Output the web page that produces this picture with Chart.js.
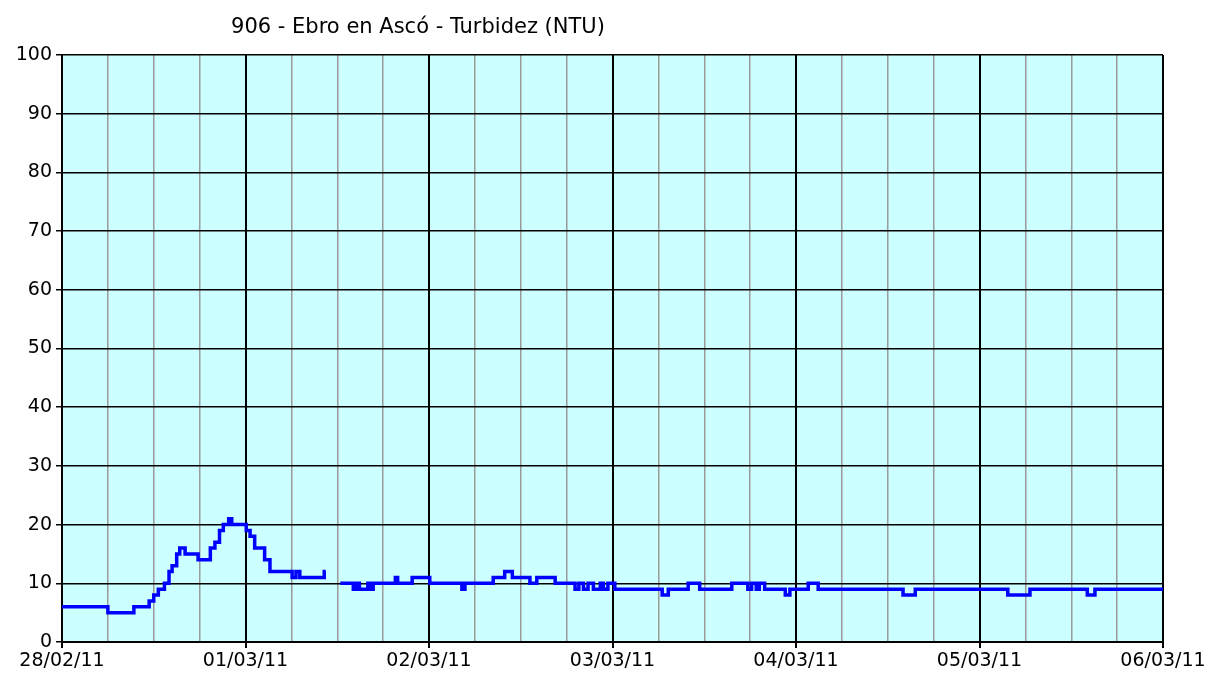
<!DOCTYPE html>
<html>
<head>
<meta charset="utf-8">
<script src="https://cdn.jsdelivr.net/npm/chart.js@4/dist/chart.umd.min.js"></script>
<style>
  html, body { margin: 0; padding: 0; background: #fff; }
  #wrap { width: 1221px; height: 680px; position: relative; }
</style>
</head>
<body>
<div id="wrap"><canvas id="turbChart"></canvas></div>
<script>
const chartTitle = '906 - Ebro en Ascó - Turbidez (NTU)';
const dayLabels = ['28/02/11', '01/03/11', '02/03/11', '03/03/11', '04/03/11', '05/03/11', '06/03/11'];

// hours since 28/02/11 00:00, value holds until the next hour (null = gap)
const hours = [
    0, 6, 9.4, 11.4, 12, 12.6, 13.4, 14, 14.4, 15, 15.4, 16.1, 17.8, 19.4, 20, 20.6,
    21.1, 21.8, 22.2, 24.1, 24.6, 25.2, 26.5, 27.2, 30.1, 30.6, 31.1, 34.3, 34.5,
    35.4,
    36.4, 38.1, 38.5, 38.9, 40, 40.3, 40.7, 43.6, 43.9, 45.8, 48.1, 52.3, 52.7, 56.4,
    57.9, 58.9, 61.2, 62.1, 64.5, 67.1, 67.6, 68.2, 68.8, 69.5, 70.4, 70.8, 71.4, 72.3,
    78.5, 79.3, 81.9, 83.4, 87.6, 89.7, 90.2, 90.8, 91.2, 91.9, 94.6, 95.2, 97.6, 98.9,
    110, 111.6, 123.7, 126.6, 134.1, 135.1, 144
];
const turbidity = [
    6, 5, 6, 7, 8, 9, 10, 12, 13, 15, 16, 15, 14, 16, 17, 19,
    20, 21, 20, 19, 18, 16, 14, 12, 11, 12, 11, 12, 12,
    null,
    10, 9, 10, 9, 10, 9, 10, 11, 10, 11, 10, 9, 10, 11,
    12, 11, 10, 11, 10, 9, 10, 9, 10, 9, 10, 9, 10, 9,
    8, 9, 10, 9, 10, 9, 10, 9, 10, 9, 8, 9, 10, 9,
    8, 9, 8, 9, 8, 9, 9
];

const plotBackground = {
    id: 'plotBackground',
    beforeDraw(chart) {
        const { ctx, chartArea: a } = chart;
        ctx.save();
        ctx.fillStyle = '#ccffff';
        ctx.fillRect(a.left, a.top, a.right - a.left, a.bottom - a.top);
        ctx.restore();
    }
};

const titleText = {
    id: 'titleText',
    afterDraw(chart) {
        const ctx = chart.ctx;
        ctx.save();
        ctx.font = '21px "DejaVu Sans"';
        ctx.fillStyle = '#000';
        ctx.textAlign = 'center';
        ctx.textBaseline = 'middle';
        ctx.fillText(chartTitle, 418, 28);
        ctx.restore();
    }
};

const isDay = (c) => c.tick && c.tick.value % 24 === 0;

new Chart(document.getElementById('turbChart'), {
    type: 'line',
    data: {
        datasets: [{
            label: 'Turbidez',
            data: hours.map((h, i) => ({ x: h, y: turbidity[i] })),
            borderColor: '#0000ff',
            borderWidth: 3.5,
            pointRadius: 0,
            stepped: true,
            spanGaps: false,
        }],
    },
    options: {
        responsive: true,
        maintainAspectRatio: false,
        animation: false,
        layout: { padding: { top: 55, right: 58, left: 0, bottom: 0 } },
        plugins: { legend: { display: false }, tooltip: { enabled: false }, title: { display: false } },
        scales: {
            x: {
                type: 'linear',
                min: 0,
                max: 144,
                afterFit: (s) => { s.height = 38; },
                afterBuildTicks: (s) => {
                    s.ticks = [];
                    for (let h = 0; h <= 144; h += 6) s.ticks.push({ value: h });
                },
                ticks: {
                    autoSkip: false,
                    maxRotation: 0,
                    padding: 2,
                    color: '#000',
                    font: { family: 'DejaVu Sans', size: 19 },
                    callback: (v) => (v % 24 === 0 ? dayLabels[v / 24] : ''),
                },
                grid: {
                    color: (c) => (isDay(c) ? '#000' : '#9a9a9a'),
                    tickColor: (c) => (isDay(c) ? '#000' : 'rgba(0,0,0,0)'),
                    lineWidth: (c) => (isDay(c) ? 2 : 1.5),
                    tickLength: 6,
                },
                border: { color: '#000', width: 2 },
            },
            y: {
                min: 0,
                max: 100,
                afterFit: (s) => { s.width = 62; },
                ticks: {
                    stepSize: 10,
                    padding: 4,
                    color: '#000',
                    font: { family: 'DejaVu Sans', size: 19 },
                },
                grid: { color: '#000', tickLength: 6, lineWidth: 1.5 },
                border: { color: '#000', width: 2 },
            },
        },
    },
    plugins: [plotBackground, titleText],
});
</script>
</body>
</html>
